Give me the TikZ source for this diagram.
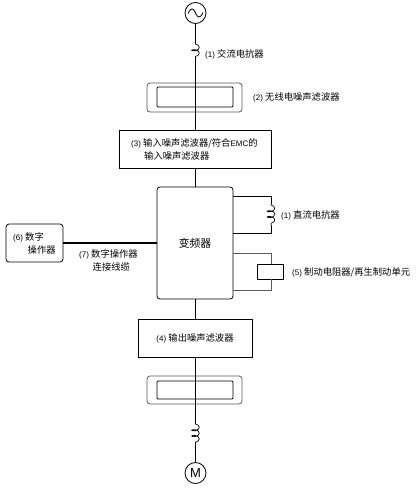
\documentclass[tikz,border=0pt]{standalone}
\usepackage{fontspec}
\setmainfont{Liberation Sans}
\newfontfamily\cjk{Noto Sans CJK SC}
\usetikzlibrary{decorations.pathmorphing}
\newcommand{\zh}[1]{{\cjk\fontsize{9.3}{12}\selectfont #1}}

\begin{document}
\begin{tikzpicture}[
			x=1pt, y=-1pt,
			every node/.style={font=\fontsize{8}{12}\selectfont},
			wire/.style={draw, line width=0.8pt},
			paleline/.style={draw=black!65, line width=0.8pt},
			bloc/.style={rectangle, draw, line width=0.8pt, inner sep=0pt},
			round/.style={bloc, rounded corners=3pt},
			ring/.style={circle, draw, line width=0.8pt, minimum size=21pt, inner sep=0pt},
			lab/.style={anchor=west, inner sep=0pt, align=left},
			coil/.style={line width=0.7pt, decorate, decoration={coil, aspect=0.5, segment length=5.8pt, amplitude=3.8pt, pre length=1pt, post length=1pt}}
			]
			\useasboundingbox (0,0) rectangle (420,493);
			\fill[white] (0,0) rectangle (420,493);
			
			\node[ring] (ac) at (195.5,13) {};
			\node[ring] (motor) at (195.5,473) {\fontsize{13}{13}\selectfont M};
			\draw[line width=0.8pt] (188,13.5) .. controls (191,7) and (193.5,8) .. (195.5,13) .. controls (197.5,18) and (200,19) .. (203,12.5);
			
			\coordinate (la1) at (195.5,43);
			\coordinate (la2) at (195.5,62);
			\coordinate (lb1) at (195.5,423);
			\coordinate (lb2) at (195.5,445);
			\coordinate (dc1) at (271,204);
			\coordinate (dc2) at (271,225);
			\coordinate (dcin) at (233,196);
			\coordinate (dcout) at (233,233);
			\coordinate (brin) at (233,253);
			\coordinate (brout) at (233,290);
			
			% filters
			\node[round, draw=black!65, minimum width=95pt, minimum height=29pt] (fa) at (194.5,97.5) {};
			\node[bloc, rounded corners=1pt, minimum width=76pt, minimum height=20pt] (fai) at (195,97) {};
			\node[round, draw=black!65, minimum width=95pt, minimum height=28pt] (fb) at (194.5,390) {};
			\node[bloc, rounded corners=1pt, minimum width=76pt, minimum height=18pt] (fbi) at (195,390) {};
			
			% boxes
			\node[bloc, minimum width=152pt, minimum height=38pt] (input) at (195,149.5) {};
			\node[round, minimum width=76pt, minimum height=112pt] (inv) at (195,243) {{\cjk\fontsize{10.8}{12}\selectfont 变频器}};
			\node[bloc, minimum width=114pt, minimum height=38pt] (output) at (195,338) {(4) \zh{输出噪声滤波器}};
			\node[round, minimum width=57pt, minimum height=38pt] (op) at (34.5,243) {};
			\node[bloc, minimum width=26pt, minimum height=15pt] (brake) at (270,271.5) {};
			
			% main line
			\draw[wire] (ac) -- (la1);
			\draw[coil] (la1) -- (la2);
			\draw[wire] (la2) -- (la2 |- input.north);
			\draw[wire] (ac |- input.south) -- (ac |- inv.north);
			\draw[wire] (ac |- inv.south) -- (ac |- output.north);
			\draw[wire] (ac |- output.south) -- (lb1);
			\draw[coil] (lb1) -- (lb2);
			\draw[wire] (lb2) -- (motor);
			\draw[line width=1.6pt] (op.east) -- (op.east -| inv.west);
			
			% dc reactor, brake
			\draw[wire] (dcin) -| (dc1);
			\draw[coil] (dc1) -- (dc2);
			\draw[wire] (dc2) |- (dcout);
			\draw[paleline] (brin) -| (brake.north -| dc1);
			\draw[paleline] (brake.south -| dc1) |- (brout);
			
			% labels
			\node[lab] (t1) at (205,54) {(1) \zh{交流电抗器}};
			\node[lab] (t2) at (253,97) {(2) \zh{无线电噪声滤波器}};
			\node[lab] (t3) at (131,143.5) {(3) \zh{输入噪声滤波器/符合}EMC\zh{的}};
			\node[lab] (t3b) at (144,155.5) {\zh{输入噪声滤波器}};
			\node[lab] (t6) at (13,237) {(6) \zh{数字}};
			\node[lab] (t6b) at (27.5,250) {\zh{操作器}};
			\node[lab] (t7) at (79,254.5) {(7) \zh{数字操作器}};
			\node[lab] (t7b) at (92.5,266.5) {\zh{连接线缆}};
			\node[lab] (t8) at (281,215) {(1) \zh{直流电抗器}};
			\node[lab] (t5) at (292,272) {(5) \zh{制动电阻器/再生制动单元}};
		\end{tikzpicture}
\end{document}
